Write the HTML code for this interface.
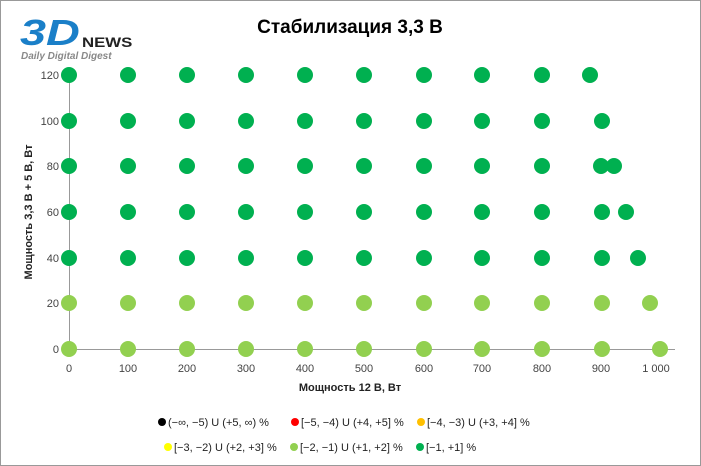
<!DOCTYPE html>
<html><head><meta charset="utf-8"><style>
body{margin:0;background:#fff}
svg{display:block;font-family:"Liberation Sans",sans-serif}
</style></head><body>
<svg width="701" height="466" xmlns="http://www.w3.org/2000/svg">
<rect x="0.5" y="0.5" width="700" height="465" fill="#fff" stroke="#999"/>
<text x="20" y="45" font-size="36" font-weight="bold" font-style="italic" fill="#1a7fc8" transform="translate(20,45) scale(1.3,1) translate(-20,-45)">3D</text>
<text x="82" y="47" font-size="16" font-weight="bold" fill="#222" transform="translate(82,47) scale(1.05,0.85) translate(-82,-47)">NEWS</text>
<text x="21" y="59" font-size="10" font-weight="bold" font-style="italic" fill="#888">Daily Digital Digest</text>
<text x="350" y="33" font-size="19" font-weight="bold" text-anchor="middle" fill="#000">Стабилизация 3,3 В</text>
<line x1="69.5" y1="75" x2="69.5" y2="349" stroke="#999"/>
<line x1="69" y1="349.5" x2="675" y2="349.5" stroke="#999"/>
<g font-size="11" fill="#444" text-anchor="end">
<text x="59" y="353">0</text><text x="59" y="307">20</text><text x="59" y="262">40</text><text x="59" y="216">60</text><text x="59" y="170">80</text><text x="59" y="125">100</text><text x="59" y="79">120</text>
</g>
<g font-size="11" fill="#444" text-anchor="middle">
<text x="69" y="372">0</text><text x="128" y="372">100</text><text x="187" y="372">200</text><text x="246" y="372">300</text><text x="305" y="372">400</text><text x="364" y="372">500</text><text x="424" y="372">600</text><text x="482" y="372">700</text><text x="542" y="372">800</text><text x="601" y="372">900</text><text x="656" y="372">1 000</text>
</g>
<text x="350" y="391" font-size="11" font-weight="bold" text-anchor="middle" fill="#222">Мощность  12 В, Вт</text>
<text transform="translate(32,212) rotate(-90)" font-size="11" font-weight="bold" text-anchor="middle" fill="#222">Мощность  3,3 В + 5 В, Вт</text>
<g id="pts"></g>
<g font-size="11" fill="#222">
<circle cx="162" cy="422" r="4" fill="#000"/><text x="168" y="426">(−∞, −5) U (+5, ∞) %</text>
<circle cx="295" cy="422" r="4" fill="#f00"/><text x="301" y="426">[−5, −4) U (+4, +5] %</text>
<circle cx="421" cy="422" r="4" fill="#ffc000"/><text x="427" y="426">[−4, −3) U (+3, +4] %</text>
<circle cx="168" cy="447" r="4" fill="#ff0"/><text x="174" y="451">[−3, −2) U (+2, +3] %</text>
<circle cx="294" cy="447" r="4" fill="#92d050"/><text x="300" y="451">[−2, −1) U (+1, +2] %</text>
<circle cx="420" cy="447" r="4" fill="#00b050"/><text x="426" y="451">[−1, +1] %</text>
</g>
<script>
var g=document.getElementById('pts'),ns="http://www.w3.org/2000/svg";
var xs=[69,128,187,246,305,364,424,482,542];
function c(x,y,f){var e=document.createElementNS(ns,'circle');e.setAttribute('cx',x);e.setAttribute('cy',y);e.setAttribute('r',8);e.setAttribute('fill',f);g.appendChild(e);}
var D="#00b050",L="#92d050";
var rows=[[75,D,[590]],[121,D,[602]],[166,D,[601,614]],[212,D,[602,626]],[258,D,[602,638]],[303,L,[602,650]],[349,L,[602,660]]];
rows.forEach(function(r){xs.concat(r[2]).forEach(function(x){c(x,r[0],r[1]);});});
</script>
</svg>
</body></html>
